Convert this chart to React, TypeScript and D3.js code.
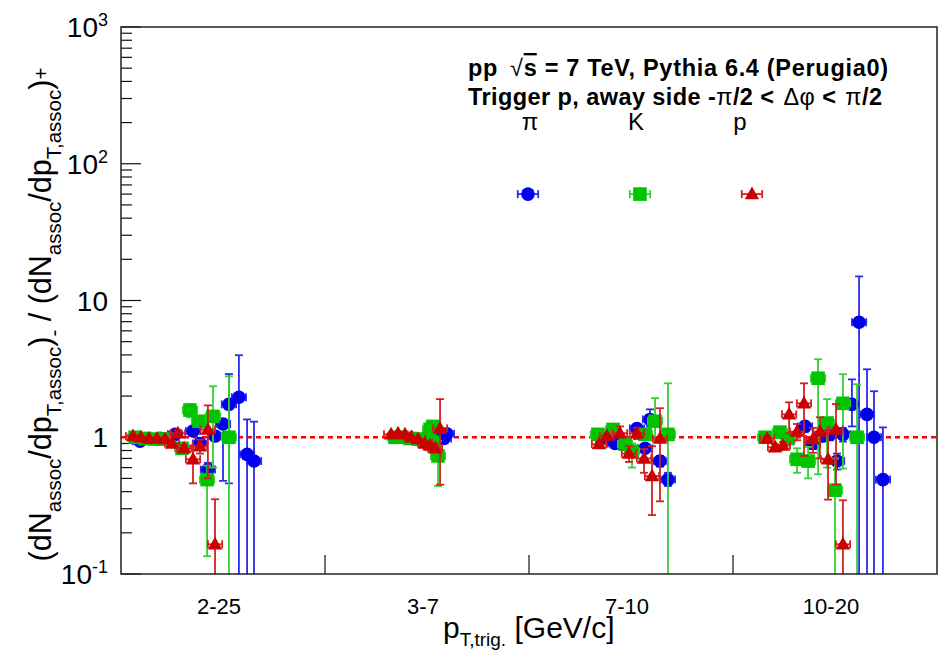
import React from "react";
import * as d3 from "d3";

// ---------------- data ----------------
const binLabels = ["2-25", "3-7", "7-10", "10-20"];
const yMajorTicks = [0.1, 1, 10, 100, 1000];
// [x (bin units), value, errLow, errHigh]
const pions: [number, number, number, number][] = [
  [0.093, 0.935, 0.91, 0.96], [0.191, 0.983, 0.96, 1.01], [0.265, 1.05, 1.02, 1.09],
  [0.353, 1.11, 1.05, 1.17], [0.387, 0.9, 0.86, 0.95], [0.461, 1.02, 0.96, 1.08],
  [0.426, 0.58, 0.52, 0.65], [0.5, 1.25, 0.48, 1.35], [0.529, 1.74, 0.46, 2.9],
  [0.578, 1.96, 0.05, 3.98], [0.618, 0.75, 0.05, 1.35], [0.652, 0.67, 0.05, 1.3],
  [1.544, 0.97, 0.95, 0.99], [1.564, 1.05, 1.02, 1.08], [1.583, 0.98, 0.95, 1.01], [1.598, 1.06, 1.02, 1.1],
  [2.363, 0.98, 0.95, 1.01], [2.422, 0.9, 0.87, 0.93], [2.529, 1.16, 1.1, 1.22], [2.569, 0.83, 0.79, 0.87],
  [2.593, 1.35, 1.2, 1.6], [2.642, 0.67, 0.61, 0.73], [2.681, 0.49, 0.44, 0.55],
  [3.353, 1.2, 1.1, 1.3], [3.392, 0.9, 0.82, 0.98], [3.436, 1.02, 0.93, 1.11], [3.475, 1.05, 0.95, 1.15],
  [3.51, 0.67, 0.58, 0.76], [3.539, 1.05, 0.93, 1.17], [3.583, 1.74, 1.2, 2.65],
  [3.618, 6.93, 0.05, 15], [3.657, 1.47, 0.05, 3.14], [3.691, 1.0, 0.05, 2.17], [3.735, 0.49, 0.05, 1.18],
];
const kaons: [number, number, number, number][] = [
  [0.069, 1.0, 0.98, 1.02], [0.118, 0.98, 0.96, 1.0], [0.167, 0.97, 0.95, 0.99], [0.206, 0.97, 0.94, 1.0],
  [0.299, 0.83, 0.78, 0.88], [0.338, 1.58, 1.4, 1.75], [0.382, 1.31, 1.2, 1.42],
  [0.451, 1.42, 0.6, 2.36], [0.422, 0.49, 0.135, 0.62], [0.529, 1.0, 0.05, 2.79],
  [1.343, 1.0, 0.98, 1.02], [1.377, 1.0, 0.98, 1.02], [1.417, 0.98, 0.96, 1.0], [1.456, 0.97, 0.95, 0.99],
  [1.49, 0.935, 0.91, 0.96], [1.525, 0.92, 0.89, 0.95], [1.515, 1.14, 1.08, 1.2], [1.529, 1.2, 1.12, 1.28],
  [1.554, 0.73, 0.44, 0.94],
  [2.338, 1.05, 1.01, 1.09], [2.412, 1.14, 1.08, 1.2], [2.471, 0.89, 0.84, 0.94], [2.505, 0.79, 0.6, 0.9],
  [2.569, 1.05, 0.98, 1.12], [2.618, 1.31, 0.95, 1.93], [2.681, 1.05, 0.05, 2.48],
  [3.157, 1.0, 0.95, 1.05], [3.23, 1.09, 1.02, 1.16], [3.27, 0.98, 0.9, 1.06], [3.314, 0.69, 0.55, 0.83],
  [3.368, 0.67, 0.5, 0.85], [3.417, 2.7, 0.536, 3.72], [3.461, 1.27, 0.6, 1.9], [3.5, 0.41, 0.05, 0.7],
  [3.539, 1.77, 0.59, 2.89], [3.608, 1.0, 0.05, 2.44],
];
const protons: [number, number, number, number][] = [
  [0.059, 1.02, 1.0, 1.04], [0.098, 1.0, 0.98, 1.02], [0.137, 0.98, 0.96, 1.0], [0.176, 0.98, 0.96, 1.0],
  [0.216, 0.97, 0.94, 1.0], [0.25, 0.9, 0.86, 0.94], [0.279, 1.07, 1.01, 1.13], [0.309, 0.83, 0.78, 0.88],
  [0.353, 0.69, 0.46, 0.86], [0.387, 0.86, 0.76, 0.96], [0.426, 1.14, 0.5, 1.71], [0.461, 0.165, 0.05, 0.352],
  [1.324, 1.05, 1.03, 1.07], [1.358, 1.07, 1.05, 1.09], [1.392, 1.05, 1.03, 1.07], [1.422, 1.0, 0.98, 1.02],
  [1.456, 0.97, 0.95, 0.99], [1.49, 0.9, 0.87, 0.93], [1.515, 0.87, 0.84, 0.9], [1.539, 0.83, 0.79, 0.87],
  [1.564, 1.16, 0.45, 1.9],
  [2.343, 0.89, 0.85, 0.93], [2.382, 1.02, 0.98, 1.06], [2.446, 1.07, 1.0, 1.2], [2.529, 1.07, 0.97, 1.17],
  [2.49, 0.76, 0.66, 0.86], [2.564, 0.7, 0.55, 0.82], [2.603, 0.52, 0.27, 0.86], [2.642, 0.98, 0.34, 1.63],
  [3.167, 0.98, 0.94, 1.02], [3.206, 0.845, 0.8, 0.89], [3.245, 0.87, 0.82, 0.92], [3.275, 1.47, 1.07, 1.8],
  [3.314, 1.1, 0.95, 1.25], [3.348, 1.77, 0.73, 2.48], [3.392, 0.97, 0.77, 1.17], [3.426, 1.1, 0.7, 1.4],
  [3.466, 0.69, 0.35, 1.1], [3.505, 1.14, 0.45, 1.75], [3.539, 0.165, 0.05, 0.346],
];
const xErr = 0.035;
const legendNames = ["π", "K", "p"];
const legendX = [1.995, 2.544, 3.093];
const legendValue = 60;
const legendXErr = 0.05;

// ---------------- layout ----------------
const W = 939, H = 659;
const L = 121, R = 937, T = 27, B = 574;
const x = d3.scaleLinear().domain([0, 4]).range([L, R]);
const y = d3.scaleLog().domain([0.1, 1000]).range([B, T]);
const FONT = "'Liberation Sans', Arial, Helvetica, sans-serif";

const colors = {
  pi: { mark: "#0000ee", err: "#2a2af0" },
  K: { mark: "#00c400", err: "#33d133" },
  p: { mark: "#cc0000", err: "#d42020" },
};

function Marker({ kind, cx, cy, color }: { kind: string; cx: number; cy: number; color: string }) {
  if (kind === "circle") return <circle cx={cx} cy={cy} r={6.8} fill={color} />;
  if (kind === "square") return <rect x={cx - 6.8} y={cy - 6.8} width={13.6} height={13.6} fill={color} />;
  return <polygon points={`${cx},${cy - 7.5} ${cx + 7.2},${cy + 5.2} ${cx - 7.2},${cy + 5.2}`} fill={color} />;
}

function ErrBar({ xv, v, lo, hi, xe, color }: { xv: number; v: number; lo: number; hi: number; xe: number; color: string }) {
  const cx = x(xv), cy = y(v);
  const x0 = x(xv - xe), x1 = x(xv + xe);
  const ylo = y(Math.max(lo, 0.05)), yhi = y(hi);
  const cap = 4;
  return (
    <g stroke={color} strokeWidth={1.8} fill="none">
      <line x1={x0} x2={x1} y1={cy} y2={cy} />
      <line x1={x0} x2={x0} y1={cy - cap} y2={cy + cap} />
      <line x1={x1} x2={x1} y1={cy - cap} y2={cy + cap} />
      {Math.abs(yhi - ylo) > 2 && (
        <>
          <line x1={cx} x2={cx} y1={ylo} y2={yhi} />
          <line x1={cx - cap} x2={cx + cap} y1={yhi} y2={yhi} />
          {lo > 0.1 && <line x1={cx - cap} x2={cx + cap} y1={ylo} y2={ylo} />}
        </>
      )}
    </g>
  );
}

function Series({ data, kind, c }: { data: [number, number, number, number][]; kind: string; c: { mark: string; err: string } }) {
  return (
    <g>
      {data.map((d, i) => (
        <ErrBar key={"e" + i} xv={d[0]} v={d[1]} lo={d[2]} hi={d[3]} xe={xErr} color={c.err} />
      ))}
      {data.map((d, i) => (
        <Marker key={"m" + i} kind={kind} cx={x(d[0])} cy={y(d[1])} color={c.mark} />
      ))}
    </g>
  );
}

export default function App() {
  const minorTicks: number[] = [];
  for (let e = -1; e < 3; e++) for (let k = 2; k <= 9; k++) minorTicks.push(k * Math.pow(10, e));
  const legendKinds = ["circle", "square", "triangle"];
  const legendColors = [colors.pi, colors.K, colors.p];

  const supLabel = (v: number) => {
    const e = Math.round(Math.log10(v));
    if (e === 0) return <tspan>1</tspan>;
    if (e === 1) return <tspan>10</tspan>;
    return (
      <>
        <tspan>10</tspan>
        <tspan dy={-11} fontSize={18}>{e}</tspan>
      </>
    );
  };

  return (
    <svg width={W} height={H} style={{ position: "absolute", left: 0, top: 0, background: "#fff" }} fontFamily={FONT}>
      <defs>
        <clipPath id="plot">
          <rect x={L} y={T} width={R - L} height={B - T} />
        </clipPath>
      </defs>
      <rect x={0} y={0} width={W} height={H} fill="#fff" />

      {/* y ticks */}
      <g stroke="#111" strokeWidth={1.2}>
        {yMajorTicks.map((t) => (
          <line key={t} x1={L} x2={L + 20} y1={y(t)} y2={y(t)} />
        ))}
        {minorTicks.map((t) => (
          <line key={t} x1={L} x2={L + 11} y1={y(t)} y2={y(t)} />
        ))}
        {[1, 2, 3].map((b) => (
          <line key={b} x1={x(b)} x2={x(b)} y1={B} y2={B - 19} />
        ))}
      </g>

      {/* y tick labels */}
      {yMajorTicks.map((t) => (
        <text key={t} x={108} y={y(t) + 10} fontSize={28} textAnchor="end" fill="#000">
          {supLabel(t)}
        </text>
      ))}

      {/* x bin labels */}
      {binLabels.map((l, i) => (
        <text key={l} x={x(i + 0.5) - 4} y={614} fontSize={22} textAnchor="middle" fill="#000">
          {l}
        </text>
      ))}

      {/* reference line */}
      <line x1={L} x2={R} y1={y(1)} y2={y(1)} stroke="#ff0000" strokeWidth={2.6} strokeDasharray="5,4" />

      <g clipPath="url(#plot)">
        <Series data={pions} kind="circle" c={colors.pi} />
        <Series data={kaons} kind="square" c={colors.K} />
        <Series data={protons} kind="triangle" c={colors.p} />
        {legendX.map((lx, i) => (
          <g key={i}>
            <ErrBar xv={lx} v={legendValue} lo={legendValue} hi={legendValue} xe={legendXErr} color={legendColors[i].err} />
            <Marker kind={legendKinds[i]} cx={x(lx)} cy={y(legendValue)} color={legendColors[i].mark} />
          </g>
        ))}
      </g>

      {/* frame */}
      <rect x={L} y={T} width={R - L} height={B - T} fill="none" stroke="#222" strokeWidth={1.5} />

      {/* legend names */}
      {legendNames.map((n, i) => (
        <text key={n} x={[530, 636, 740][i]} y={130} fontSize={24} textAnchor="middle" fill="#000">
          {n}
        </text>
      ))}

      {/* header text */}
      <text x={468} y={76} fontSize={23.5} fontWeight="bold" fill="#000" textLength={420} lengthAdjust="spacing">
        pp<tspan dx={12} fontWeight="normal">√</tspan><tspan style={{ textDecoration: "overline" }}>s</tspan> = 7 TeV, Pythia 6.4 (Perugia0)
      </text>
      <text x={468} y={105} fontSize={23.5} fontWeight="bold" fill="#000" textLength={414} lengthAdjust="spacing">
        Trigger p, away side -<tspan fontWeight="normal">π</tspan>/2 &lt;<tspan dx={9} fontWeight="normal">Δφ</tspan> &lt;<tspan dx={9} fontWeight="normal">π</tspan>/2
      </text>

      {/* axis titles */}
      <text x={443} y={638} fontSize={30} fill="#000">
        p<tspan dy={8} fontSize={19}>T,trig.</tspan>
        <tspan dy={-8}> [GeV/c]</tspan>
      </text>
      <text transform={`translate(51,${(T + B) / 2 + 14}) rotate(-90)`} textAnchor="middle" fontSize={30.5} fill="#000">
        (dN<tspan dy={10} fontSize={20.5}>assoc</tspan>
        <tspan dy={-10}>/dp</tspan>
        <tspan dy={10} fontSize={20.5}>T,assoc</tspan>
        <tspan dy={-10}>)</tspan>
        <tspan dy={10} fontSize={20.5}>-</tspan>
        <tspan dy={-10}> / (dN</tspan>
        <tspan dy={10} fontSize={20.5}>assoc</tspan>
        <tspan dy={-10}>/dp</tspan>
        <tspan dy={10} fontSize={20.5}>T,assoc</tspan>
        <tspan dy={-10}>)</tspan>
        <tspan dy={-3} fontSize={20.5}>+</tspan>
      </text>
    </svg>
  );
}
